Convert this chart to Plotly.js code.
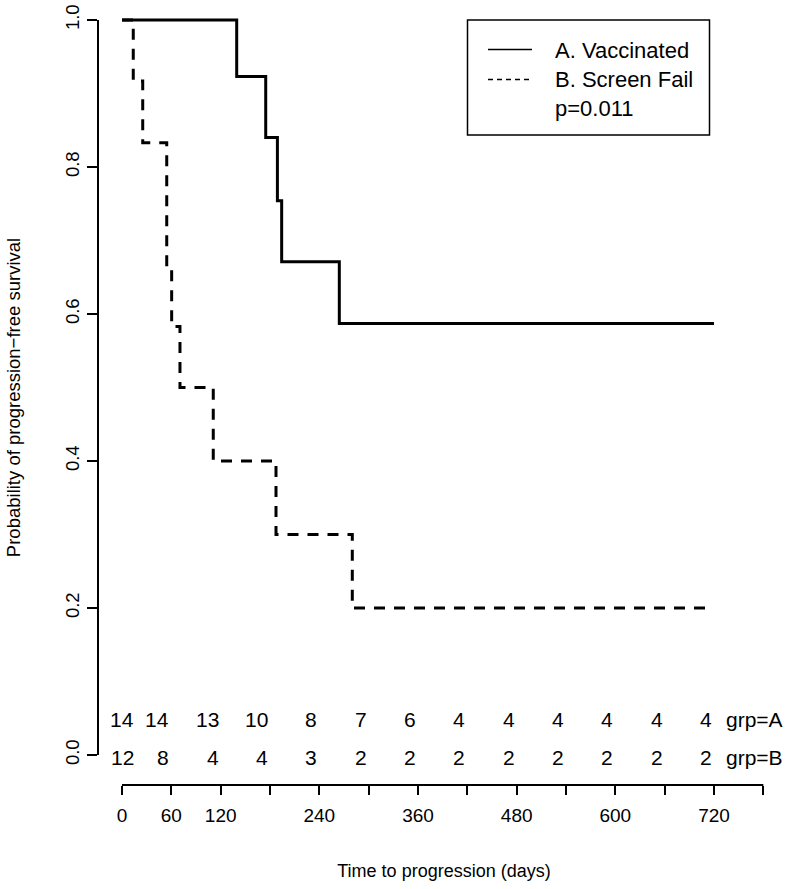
<!DOCTYPE html>
<html>
<head>
<meta charset="utf-8">
<script src="https://cdn.plot.ly/plotly-3.0.1.min.js"></script>
<style>
html,body{margin:0;padding:0;background:#fff;}
#chart{width:800px;height:889px;}
</style>
</head>
<body>
<div id="chart"></div>
<script>
// ---- data ----
const timesA = [0, 139.5, 174.8, 189, 194.2, 264.3, 720];
const survA  = [1, 0.923, 0.840, 0.754, 0.671, 0.587, 0.587];
const timesB = [0, 13.7, 25.2, 54.4, 60.4, 70.5, 111, 187.3, 280.1, 720];
const survB  = [1, 0.917, 0.833, 0.667, 0.583, 0.5, 0.4, 0.3, 0.2, 0.2];
const nameA = "A. Vaccinated";
const nameB = "B. Screen Fail";
const pText = "p=0.011";
const riskTimes = [0, 60, 120, 180, 240, 300, 360, 420, 480, 540, 600, 660, 720];
const riskA = [14, 14, 13, 10, 8, 7, 6, 4, 4, 4, 4, 4, 4];
const riskB = [12, 8, 4, 4, 3, 2, 2, 2, 2, 2, 2, 2, 2];
const riskLabels = ["grp=A", "grp=B"];
const xTickVals = [0, 60, 120, 180, 240, 300, 360, 420, 480, 540, 600, 660, 720, 780];
const xTickText = ["0", "60", "120", "", "240", "", "360", "", "480", "", "600", "", "720", ""];
const yTickVals = [0, 0.2, 0.4, 0.6, 0.8, 1.0];
const yTickText = ["0.0", "0.2", "0.4", "0.6", "0.8", "1.0"];
const xTitle = "Time to progression (days)";
const yTitle = "Probability of progression\u2212free survival";

// ---- layout geometry (pixels) ----
const W = 800, H = 889;
const M = {l: 98, r: 10, t: 10, b: 104};
const plotW = W - M.l - M.r, plotH = H - M.t - M.b;
const px2paperX = p => (p - M.l) / plotW;
const py2paperY = p => (H - M.b - p) / plotH;
const FONT = "Liberation Sans, Arial, Helvetica, sans-serif";

const traces = [
  {x: timesA, y: survA, type: "scatter", mode: "lines", name: nameA,
   line: {shape: "hv", color: "#000", width: 3}, showlegend: false, hoverinfo: "skip"},
  {x: timesB, y: survB, type: "scatter", mode: "lines", name: nameB,
   line: {shape: "hv", color: "#000", width: 3, dash: "11px,9px"}, showlegend: false, hoverinfo: "skip"}
];

const annotations = [];
riskTimes.forEach((t, i) => {
  [riskA, riskB].forEach((arr, r) => {
    annotations.push({
      x: t, xref: "x", y: r === 0 ? 0.048 : -0.003, yref: "y",
      text: String(arr[i]), showarrow: false,
      xanchor: i === 0 ? "center" : "right", yanchor: "middle",
      font: {family: FONT, size: 21, color: "#000"}
    });
  });
});
riskLabels.forEach((lab, r) => {
  annotations.push({
    x: riskTimes[riskTimes.length - 1], xref: "x", xshift: 10,
    y: r === 0 ? 0.048 : -0.003, yref: "y",
    text: lab, showarrow: false, xanchor: "left", yanchor: "middle",
    font: {family: FONT, size: 21, color: "#000"}
  });
});
// legend text
[[nameA, 50.5], [nameB, 79.5], [pText, 108]].forEach(([txt, py]) => {
  annotations.push({
    x: px2paperX(553), xref: "paper", y: py2paperY(py), yref: "paper",
    text: txt, showarrow: false, xanchor: "left", yanchor: "middle",
    font: {family: FONT, size: 22, color: "#000"}
  });
});

const shapes = [
  // y axis line (0..1)
  {type: "line", xref: "paper", yref: "y", x0: 0, x1: 0, y0: 0, y1: 1,
   line: {color: "#000", width: 2}},
  // x axis line (0..780)
  {type: "line", xref: "x", yref: "paper", x0: 0, x1: 780, y0: 0, y1: 0,
   line: {color: "#000", width: 2}},
  // legend box
  {type: "rect", xref: "paper", yref: "paper",
   x0: px2paperX(467.5), x1: px2paperX(709.5), y0: py2paperY(135), y1: py2paperY(20),
   line: {color: "#000", width: 1.5}, fillcolor: "rgba(255,255,255,1)", layer: "below"},
  // legend lines
  {type: "line", xref: "paper", yref: "paper",
   x0: px2paperX(488), x1: px2paperX(532), y0: py2paperY(49.5), y1: py2paperY(49.5),
   line: {color: "#000", width: 1.6}},
  {type: "line", xref: "paper", yref: "paper",
   x0: px2paperX(488), x1: px2paperX(532), y0: py2paperY(79.5), y1: py2paperY(79.5),
   line: {color: "#000", width: 1.6, dash: "5px,4px"}}
];

const layout = {
  width: W, height: H,
  margin: M,
  paper_bgcolor: "#fff", plot_bgcolor: "#fff",
  font: {family: FONT, color: "#000", size: 18.5},
  showlegend: false,
  xaxis: {
    range: [-24 / 0.8222, (W - M.r - M.l - 24) / 0.8222],
    showgrid: false, zeroline: false, showline: false,
    tickmode: "array", tickvals: xTickVals, ticktext: xTickText,
    ticks: "outside", ticklen: 9, tickwidth: 2, tickcolor: "#000",
    ticklabelstandoff: 4,
    tickfont: {family: FONT, size: 19, color: "#000"},
    title: {text: xTitle, font: {family: FONT, size: 18, color: "#000"}, standoff: 39},
    automargin: false, fixedrange: true
  },
  yaxis: {
    range: [-30 / 735, 1 + 10 / 735],
    showgrid: false, zeroline: false, showline: false,
    tickmode: "array", tickvals: yTickVals, ticktext: yTickText,
    tickangle: -90,
    ticks: "outside", ticklen: 10, tickwidth: 2, tickcolor: "#000",
    ticklabelstandoff: 1,
    tickfont: {family: FONT, size: 18.5, color: "#000"},
    title: {text: yTitle, font: {family: FONT, size: 18.5, color: "#000"}, standoff: 36},
    automargin: false, fixedrange: true
  },
  shapes: shapes,
  annotations: annotations
};

Plotly.newPlot("chart", traces, layout, {displayModeBar: false, staticPlot: true});
</script>
</body>
</html>
